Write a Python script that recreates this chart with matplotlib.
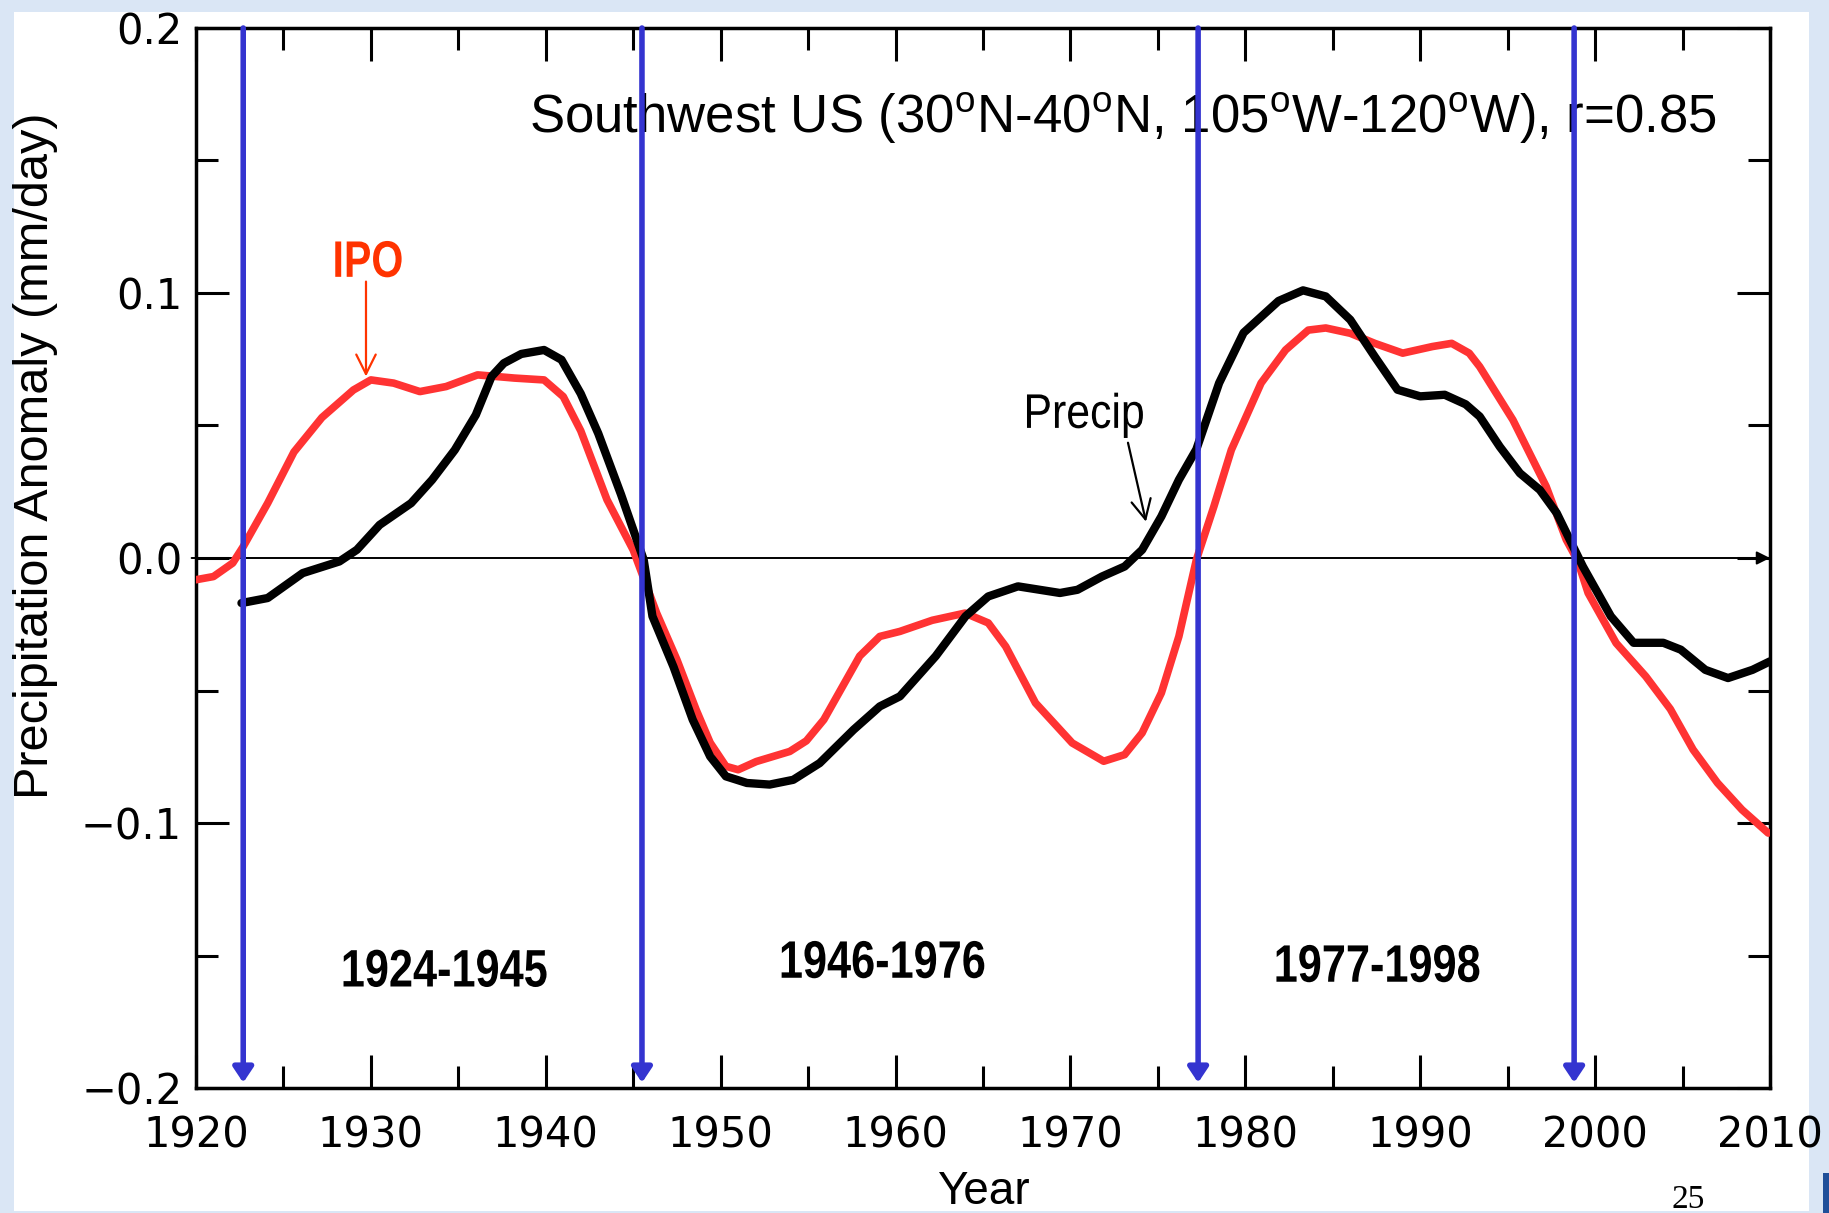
import matplotlib
matplotlib.use('Agg')
import matplotlib.pyplot as plt
from matplotlib.patches import Rectangle, PathPatch
from matplotlib.ticker import MultipleLocator
from matplotlib.textpath import TextPath
from matplotlib.font_manager import FontProperties
from matplotlib.transforms import Affine2D

plt.rcParams['font.family'] = ['Liberation Sans', 'DejaVu Sans']
plt.rcParams['mathtext.fontset'] = 'custom'
plt.rcParams['mathtext.rm'] = 'Liberation Sans'

# Precip (black), smoothed SW US precipitation anomaly
precip_year = [1922.6, 1924.1, 1926.1, 1928.2, 1929.2, 1930.5, 1932.3, 1933.5, 1934.8,
               1936.0, 1936.9, 1937.6, 1938.6, 1939.9, 1940.9, 1942.0, 1943.0, 1944.3,
               1945.6, 1946.1, 1947.3, 1948.4, 1949.4, 1950.3, 1951.5, 1952.8, 1954.15,
               1955.66, 1957.6, 1959.1, 1960.25, 1962.3, 1964.0, 1965.3, 1967.0, 1969.4,
               1970.4, 1971.8, 1973.1, 1974.1, 1975.2, 1976.2, 1977.2, 1978.5, 1979.9,
               1981.9, 1983.3, 1984.6, 1986.0, 1987.4, 1988.7, 1990.0, 1991.4, 1992.6,
               1993.4, 1994.55, 1995.7, 1996.84, 1997.8, 1998.55, 1999.3, 2000.9, 2002.2,
               2003.9, 2004.9, 2006.3, 2007.6, 2009.0, 2010.0]
precip = [-0.0170, -0.0151, -0.0057, -0.0013, 0.0031, 0.0125, 0.0207, 0.0295, 0.0408,
          0.0540, 0.0685, 0.0735, 0.0770, 0.0785, 0.0748, 0.0620, 0.0470, 0.0240,
          -0.0007, -0.0220, -0.0410, -0.0610, -0.0749, -0.0824, -0.0849, -0.0855, -0.0837,
          -0.0774, -0.0648, -0.0560, -0.0522, -0.0370, -0.0220, -0.0145, -0.0107, -0.0132,
          -0.0120, -0.0070, -0.0032, 0.0031, 0.0157, 0.0295, 0.0410, 0.0660, 0.0850,
          0.0970, 0.1010, 0.0987, 0.0899, 0.0760, 0.0635, 0.0610, 0.0616, 0.0580,
          0.0534, 0.0420, 0.0320, 0.0257, 0.0170, 0.0069, -0.0032, -0.0220, -0.0320,
          -0.0320, -0.0346, -0.0422, -0.0453, -0.0422, -0.0390]

# IPO index (red), scaled
ipo_year = [1920.0, 1921.0, 1922.1, 1922.7, 1924.1, 1925.6, 1927.2, 1929.0, 1930.0,
            1931.3, 1932.8, 1934.3, 1936.1, 1938.2, 1939.9, 1941.0, 1942.0, 1943.5,
            1945.0, 1946.34, 1947.5, 1948.6, 1949.4, 1950.3, 1951.0, 1952.04, 1953.95,
            1954.9, 1955.9, 1957.95, 1959.1, 1960.25, 1962.1, 1963.97, 1965.3, 1966.3,
            1968.0, 1970.1, 1971.9, 1973.1, 1974.1, 1975.2, 1976.2, 1977.2, 1978.2,
            1979.2, 1980.9, 1982.3, 1983.6, 1984.6, 1986.0, 1987.4, 1989.0, 1990.7,
            1991.8, 1992.8, 1993.4, 1995.3, 1997.2, 1998.35, 1999.0, 1999.6, 2001.2,
            2002.9, 2004.3, 2005.6, 2007.0, 2008.4, 2009.9]
ipo = [-0.0082, -0.0070, -0.0019, 0.0043, 0.0207, 0.0400, 0.0530, 0.0634, 0.0672,
       0.0660, 0.0628, 0.0647, 0.0691, 0.0679, 0.0672, 0.0609, 0.0480, 0.0220,
       0.0030, -0.0208, -0.0384, -0.0573, -0.0697, -0.0786, -0.0799, -0.0768, -0.0730,
       -0.0690, -0.0610, -0.0370, -0.0296, -0.0277, -0.0235, -0.0208, -0.0245, -0.0334,
       -0.0547, -0.0698, -0.0767, -0.0742, -0.0660, -0.0509, -0.0296, -0.0007, 0.0194,
       0.0408, 0.0660, 0.0785, 0.0860, 0.0868, 0.0848, 0.0810, 0.0773, 0.0798,
       0.0810, 0.0773, 0.0722, 0.0521, 0.0270, 0.0069, -0.0010, -0.0132, -0.0321,
       -0.0447, -0.0570, -0.0723, -0.0849, -0.0950, -0.1038]

# regime shifts (blue arrows) and period labels
shift_years = [1922.7, 1945.5, 1977.3, 1998.8]
periods = ['1924-1945', '1946-1976', '1977-1998']
period_x = [1934.24, 1959.28, 1987.58]
period_y = [-0.1617, -0.1584, -0.1599]

xticks = [1920, 1930, 1940, 1950, 1960, 1970, 1980, 1990, 2000, 2010]
xlabels = ['1920', '1930', '1940', '1950', '1960', '1970', '1980', '1990', '2000', '2010']
yticks = [-0.2, -0.1, 0.0, 0.1, 0.2]
ylabels = ['\u22120.2', '\u22120.1', '0.0', '0.1', '0.2']

title = (r'Southwest US (30$^{\rm o}$N-40$^{\rm o}$N, 105$^{\rm o}$W-120$^{\rm o}$W), r=0.85')

W, H = 1829, 1213
fig = plt.figure(figsize=(W / 100, H / 100), dpi=100, facecolor='#dae6f5')
# white slide panel
fig.add_artist(Rectangle((14 / W, 2 / H), (1809 - 14) / W, (1211 - 12) / H,
                         transform=fig.transFigure, facecolor='white',
                         edgecolor='none', zorder=-5))
fig.add_artist(Rectangle((1823 / W, 0), 6 / W, 40 / H, transform=fig.transFigure,
                         facecolor='#1f4f99', edgecolor='none', zorder=-4))

ax = fig.add_axes([196 / W, 1 - 1088 / H, (1770 - 196) / W, (1088 - 28) / H])
ax.set_xlim(1920, 2010)
ax.set_ylim(-0.2, 0.2)


def narrow_text(x, y, s, size, squeeze, color='black', weight='normal'):
    # condensed lettering: a text path squeezed sideways, centred on (x, y)
    fp = FontProperties(family='Liberation Sans', weight=weight)
    tp = TextPath((0, 0), s, size=size, prop=fp)
    bb = tp.get_extents()
    px, py = ax.transData.transform((x, y))
    k = fig.dpi / 72
    tr = (Affine2D().translate(-(bb.x0 + bb.x1) / 2, 0)
          .scale(squeeze * k, k).translate(px, py))
    ax.add_artist(PathPatch(tp, transform=tr, facecolor=color,
                            edgecolor='none', zorder=1))


# zero line ending in a small arrow head at the right axis
ax.annotate('', xy=(2010, 0), xytext=(1919.75, 0), annotation_clip=False,
            arrowprops=dict(arrowstyle='-|>,head_length=0.4,head_width=0.2',
                            mutation_scale=20, lw=1.4, color='black',
                            shrinkA=0, shrinkB=0), zorder=2)
ax.plot(ipo_year, ipo, color='#ff3333', lw=5.5, solid_capstyle='round',
        solid_joinstyle='round', zorder=3)
ax.plot(precip_year, precip, color='black', lw=6, solid_capstyle='round',
        solid_joinstyle='round', zorder=4)

for x in shift_years:
    ax.annotate('', xy=(x, -0.198), xytext=(x, 0.2), annotation_clip=False,
                arrowprops=dict(arrowstyle='-|>,head_length=0.45,head_width=0.3',
                                mutation_scale=20, lw=4, color='#3434d0',
                                shrinkA=0, shrinkB=0), zorder=6)

ax.text(1973.0, 0.1604, title, ha='center', va='baseline', fontsize=38, zorder=1)

for lab, x, y in zip(periods, period_x, period_y):
    narrow_text(x, y, lab, 38, 0.82, weight='bold')

narrow_text(1929.86, 0.1061, 'IPO', 37, 0.80, color='#ff3300', weight='bold')
ax.annotate('', xy=(1929.72, 0.0685), xytext=(1929.72, 0.1043),
            arrowprops=dict(arrowstyle='->,head_length=0.7,head_width=0.35',
                            mutation_scale=20, lw=1.6, color='#ff3300',
                            shrinkA=0, shrinkB=0))

narrow_text(1970.83, 0.0491, 'Precip', 35, 0.88)
ax.annotate('', xy=(1974.32, 0.0137), xytext=(1973.29, 0.0435),
            arrowprops=dict(arrowstyle='->,head_length=0.7,head_width=0.35',
                            mutation_scale=20, lw=1.6, color='black',
                            shrinkA=0, shrinkB=0))

ax.set_xticks(xticks, xlabels)
ax.set_yticks(yticks, ylabels)
ax.xaxis.set_minor_locator(MultipleLocator(5))
ax.yaxis.set_minor_locator(MultipleLocator(0.05))
ax.tick_params(which='both', direction='in', top=True, right=True, width=2.2)
ax.tick_params(which='major', length=24)
ax.tick_params(which='minor', length=16)
ax.tick_params(axis='x', which='major', pad=19, labelsize=30)
ax.tick_params(axis='y', which='major', pad=10, labelsize=30)
for lab in ax.get_xticklabels() + ax.get_yticklabels():
    lab.set_fontfamily('DejaVu Sans')
for sp in ax.spines.values():
    sp.set_linewidth(2.5)

fig.text(36 / W, 1 - 456 / H, 'Precipitation Anomaly (mm/day)', rotation=90,
         ha='center', va='center', fontsize=35)
fig.text(983 / W, 9 / H, 'Year', ha='center', va='baseline', fontsize=33)
fig.text(1688 / W, 5 / H, '25', ha='center', va='baseline', fontsize=24,
         family='Liberation Serif')

fig.savefig('out.png', dpi=100, facecolor=fig.get_facecolor())
